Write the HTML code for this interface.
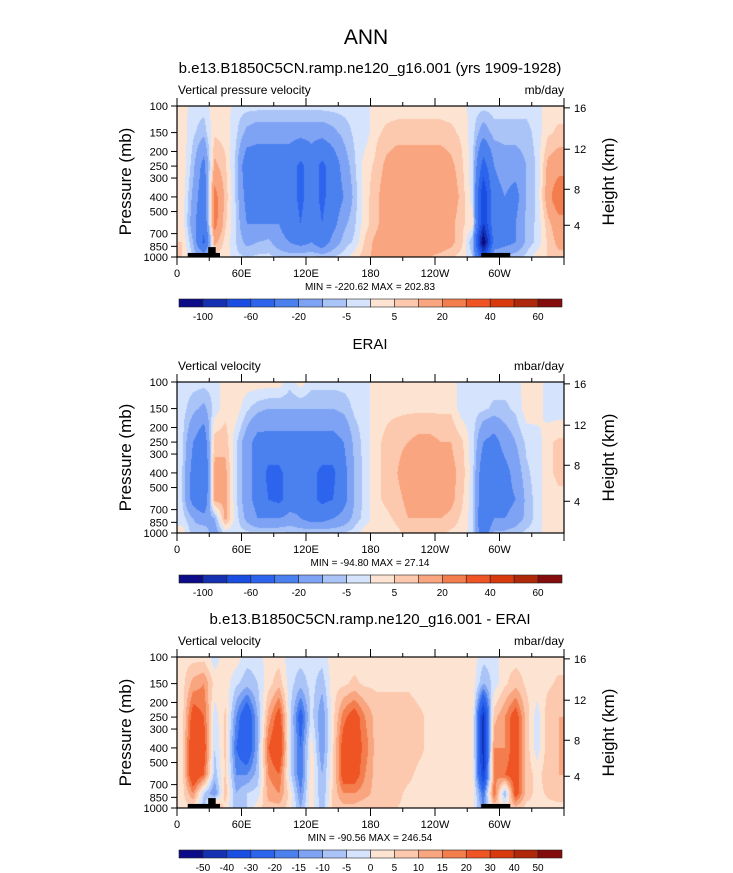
<!DOCTYPE html>
<html><head><meta charset="utf-8">
<style>
body{margin:0;background:#fff;width:733px;height:873px;overflow:hidden;position:relative;font-family:"Liberation Sans",sans-serif}
canvas{position:absolute}
svg{position:absolute;left:0;top:0}
</style></head>
<body>
<canvas id="c0" width="387" height="151" style="left:177px;top:106px"></canvas>
<canvas id="c1" width="387" height="151" style="left:177px;top:382px"></canvas>
<canvas id="c2" width="387" height="151" style="left:177px;top:657px"></canvas>
<svg id="ov" width="733" height="873">
<text x="366" y="44" font-size="21" text-anchor="middle">ANN</text>
</svg>
<script>
const lonCenters=[5,15,25,35,45,55,65,75,85,95,105,115,125,135,145,155,165,175,185,195,205,215,225,235,245,255,265,275,285,295,305,315,325,335,345,355];
const levels=[100,150,250,400,600,800,1000];
const modelRows=[
[3,-3,-3,3,3,-3,-3,-3,-3,-3,-3,-3,-3,-3,-3,-3,-3,-3,3,3,3,3,3,3,3,3,3,-3,-3,-3,-3,-3,-3,-3,3,3],
[3,-4,-8,4,3,-4,-12,-15,-15,-15,-15,-15,-15,-15,-12,-8,-4,-3,4,6,7,7,7,7,7,6,4,-3,-15,-7,-7,-7,-7,-3,4,6],
[4,-8,-25,12,6,-7,-30,-30,-30,-30,-30,-45,-30,-45,-30,-15,-6,3,6,12,15,15,15,15,15,12,6,-3,-50,-20,-15,-15,-10,-4,12,15],
[3,-12,-30,25,8,-6,-25,-25,-25,-25,-30,-45,-30,-45,-30,-20,-8,3,8,15,15,15,15,15,15,15,8,-3,-80,-25,-20,-25,-10,-4,15,30],
[3,-15,-35,25,6,-5,-20,-20,-20,-20,-30,-40,-25,-40,-25,-12,-6,3,8,15,15,15,15,15,15,12,6,3,-80,-25,-20,-20,-8,-4,8,15],
[5,-10,-45,12,3,-5,-12,-10,-8,-15,-20,-25,-20,-30,-15,-8,-4,6,12,15,15,15,15,15,15,12,6,-10,-120,-30,-25,-20,-8,-4,6,12],
[5,-5,-10,3,3,-4,-5,-4,-4,-5,-6,-5,-4,-5,-5,-3,3,8,12,12,12,12,12,10,8,6,3,-5,-60,-10,-8,-6,-4,3,5,8]];
const eraiRows=[
[-3,-3,-3,-3,3,3,3,3,3,3,-3,3,-3,-3,-3,-3,-3,-3,3,3,3,3,3,3,3,3,-3,-3,-3,-3,-3,-3,3,3,-3,-3],
[-3,-8,-12,-3,3,3,-4,-8,-10,-10,-10,-10,-10,-10,-10,-8,-4,-3,3,4,4,4,4,4,4,4,-3,-3,-4,-6,-6,-4,3,3,-3,-3],
[-4,-20,-30,8,8,-4,-15,-25,-25,-25,-25,-25,-25,-25,-25,-20,-8,-3,4,6,8,10,12,12,10,10,6,-3,-20,-25,-15,-10,-4,-3,4,6],
[-5,-25,-40,12,12,-4,-15,-25,-45,-45,-30,-25,-35,-45,-45,-25,-10,-3,4,6,10,15,15,15,15,12,8,-3,-30,-30,-25,-15,-6,-3,4,6],
[-5,-25,-35,12,12,-4,-15,-25,-40,-45,-30,-25,-35,-45,-40,-25,-10,-3,4,6,8,12,15,15,15,12,6,-3,-30,-30,-25,-20,-8,-3,3,4],
[-3,-10,-15,-10,12,-3,-12,-20,-20,-20,-15,-20,-25,-25,-20,-15,-8,-3,3,4,6,10,10,10,10,8,4,-3,-40,-20,-20,-15,-8,-3,3,4],
[3,-8,-5,-15,-3,-3,-4,-4,-4,-4,-5,-5,-5,-5,-5,-5,-3,3,3,3,4,6,6,6,6,4,3,-3,-30,-8,-8,-6,-4,-3,3,3]];
const diffRows=[
[3,3,3,-3,3,3,-3,-3,3,3,-3,-3,-3,-3,3,3,3,3,3,3,3,3,3,3,3,3,3,3,-3,-3,3,3,3,3,3,3],
[3,12,15,3,3,-4,-8,-5,3,8,-3,-8,-3,-8,3,4,6,4,4,4,4,4,3,3,3,3,3,3,-10,-3,4,8,4,3,4,6],
[3,25,20,-3,6,-15,-30,-10,12,25,-3,-25,-3,-15,3,18,25,15,8,8,8,8,6,4,4,4,3,3,-45,8,15,25,8,-3,8,10],
[3,30,25,-5,6,-20,-30,-10,20,30,-3,-20,3,-15,4,25,25,18,8,8,8,8,6,4,4,4,3,3,-45,15,15,25,8,-3,8,10],
[3,30,20,-8,6,-15,-15,-8,15,20,-3,-20,4,-10,4,25,25,15,8,8,8,6,4,4,4,4,3,3,-40,15,20,25,8,3,8,10],
[3,15,-5,-15,8,-10,-5,-3,12,15,3,-15,4,-10,6,15,15,12,8,8,6,4,4,4,4,4,3,3,-20,20,-10,25,8,3,6,8],
[3,3,-8,15,3,-8,-5,3,8,8,3,-10,3,-8,6,8,8,6,6,6,5,4,3,3,3,3,3,3,-15,6,3,8,3,3,3,3]];
const contourA=[-100,-80,-60,-40,-20,-10,-5,0,5,10,20,30,40,50,60];
const labelsA=["-100","-60","-20","-5","5","20","40","60"];
const contourC=[-50,-40,-30,-20,-15,-10,-5,0,5,10,15,20,30,40,50];
const labelsC=["-50","-40","-30","-20","-15","-10","-5","0","5","10","15","20","30","40","50"];
const palette=["#0c0c88","#1530b0","#1a4ee3","#2d64ee","#4b80ef","#7fa3f4","#aac4f8","#d5e4fc","#fde4d2","#fcc8ae","#f9a57f","#f47d4e","#ef5424","#d83a0e","#b0280a","#850c0c"];
const pTicks=[100,150,200,250,300,400,500,700,850,1000];
const hTicks=[4,8,12,16];
const lonTicks=[0,60,120,180,240,300];
const lonLabels=["0","60E","120E","180","120W","60W"];
const topoBars=[[10,40,940],[29,36,860],[283,310,940]];
const panels=[
{top:106,title:"b.e13.B1850C5CN.ramp.ne120_g16.001 (yrs 1909-1928)",left:"Vertical pressure velocity",right:"mb/day",rows:modelRows,cont:contourA,labs:labelsA,labIdx:[0,2,4,6,8,10,12,14],mm:"MIN = -220.62  MAX = 202.83",topo:true},
{top:382,title:"ERAI",left:"Vertical velocity",right:"mbar/day",rows:eraiRows,cont:contourA,labs:labelsA,labIdx:[0,2,4,6,8,10,12,14],mm:"MIN = -94.80  MAX =  27.14",topo:false},
{top:657,title:"b.e13.B1850C5CN.ramp.ne120_g16.001 - ERAI",left:"Vertical velocity",right:"mbar/day",rows:diffRows,cont:contourC,labs:labelsC,labIdx:[0,1,2,3,4,5,6,7,8,9,10,11,12,13,14],mm:"MIN = -90.56  MAX = 246.54",topo:true}];
const X0=177,W=387,H=151;
const xOf=lon=>X0+lon/360*W;
const yOf=(p,top)=>top+Math.log10(p/100)*H;
function hToP(z){z*=1000;return z<=11000?1013.25*Math.pow(1-2.25577e-5*z,5.25588):226.32*Math.exp(-(z-11000)/6341.6);}
function interp(rows,lon,lp){
  let i=0;while(i<lonCenters.length-2&&lon>lonCenters[i+1])i++;
  let tx=(lon-lonCenters[i])/(lonCenters[i+1]-lonCenters[i]);tx=Math.max(0,Math.min(1,tx));
  const L=levels.map(v=>Math.log10(v));
  let j=0;while(j<L.length-2&&lp>L[j+1])j++;
  let ty=(lp-L[j])/(L[j+1]-L[j]);ty=Math.max(0,Math.min(1,ty));
  const a=rows[j][i]*(1-tx)+rows[j][i+1]*tx,b=rows[j+1][i]*(1-tx)+rows[j+1][i+1]*tx;
  return a*(1-ty)+b*ty;
}
function colorOf(v,cont){let k=0;while(k<cont.length&&v>=cont[k])k++;return palette[k];}
const NS="http://www.w3.org/2000/svg",ov=document.getElementById('ov');
function mk(tag,attrs,txt){const e=document.createElementNS(NS,tag);for(const k in attrs)e.setAttribute(k,attrs[k]);if(txt!==undefined)e.textContent=txt;ov.appendChild(e);return e;}
panels.forEach((P,pi)=>{
  const cv=document.getElementById('c'+pi),ctx=cv.getContext('2d');
  for(let px=0;px<W;px++){const lon=(px+0.5)/W*360;
    for(let py=0;py<H;py++){const lp=2+(py+0.5)/H;
      ctx.fillStyle=colorOf(interp(P.rows,lon,lp),P.cont);ctx.fillRect(px,py,1,1);}}
  const T=P.top,B=T+H;
  if(P.topo){topoBars.forEach(tb=>{const r=mk('rect',{x:xOf(tb[0]),y:yOf(tb[2],T),width:xOf(tb[1])-xOf(tb[0]),height:B-yOf(tb[2],T),fill:'#000'});
    });}
  let e=mk('rect',{x:X0,y:T,width:W,height:H,fill:'none',stroke:'#000','stroke-width':1.2});
  
  e=mk('text',{x:370,y:T-33,'font-size':15,'text-anchor':'middle'},P.title);
  
  e=mk('text',{x:178,y:T-12,'font-size':12},P.left);
  
  e=mk('text',{x:564,y:T-12,'font-size':12,'text-anchor':'end'},P.right);
  
  pTicks.forEach(p=>{const y=yOf(p,T);
    const l=mk('line',{x1:X0-6,x2:X0,y1:y,y2:y,stroke:'#000'});
    const t=mk('text',{x:X0-9,y:y+4,'font-size':11,'text-anchor':'end'},String(p));});
  hTicks.forEach(h=>{const y=yOf(hToP(h),T);
    const l=mk('line',{x1:X0+W,x2:X0+W+6,y1:y,y2:y,stroke:'#000'});
    const t=mk('text',{x:X0+W+10,y:y+4,'font-size':11},String(h));});
  for(let lon=0;lon<=360;lon+=30){const x=xOf(lon),len=lon%60===0?8:4;
    let l=mk('line',{x1:x,x2:x,y1:T,y2:T-len,stroke:'#000'});
    l=mk('line',{x1:x,x2:x,y1:B,y2:B+len,stroke:'#000'});}
  lonTicks.forEach((lon,k)=>{const t=mk('text',{x:xOf(lon),y:B+20,'font-size':11,'text-anchor':'middle'},lonLabels[k]);
    });
  e=mk('text',{x:370,y:B+33,'font-size':10,'text-anchor':'middle'},P.mm);
  
  e=mk('text',{x:131,y:T+H/2,'font-size':17,'text-anchor':'middle',transform:`rotate(-90 131 ${T+H/2})`},'Pressure (mb)');
  
  e=mk('text',{x:614,y:T+H/2,'font-size':17,'text-anchor':'middle',transform:`rotate(-90 614 ${T+H/2})`},'Height (km)');
  
  const cbY=B+42,cbX=179,bw=383/16;
  palette.forEach((c,k)=>{const r=mk('rect',{x:cbX+k*bw,y:cbY,width:bw,height:8,fill:c,stroke:'#222','stroke-width':0.6});
    });
  P.labIdx.forEach((ci,k)=>{const t=mk('text',{x:cbX+(ci+1)*bw,y:cbY+21,'font-size':10,'text-anchor':'middle'},P.labs[k]);
    });
});
</script>
</body></html>
